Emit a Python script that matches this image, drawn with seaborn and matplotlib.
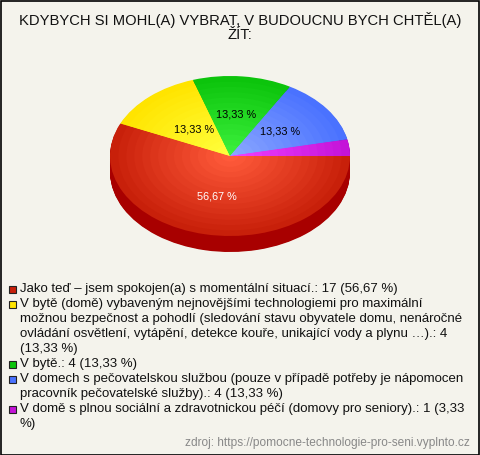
import numpy as np
import seaborn as sns
import matplotlib
matplotlib.use("Agg")
import matplotlib.pyplot as plt
from matplotlib.colors import to_rgb

# data
title = "KDYBYCH SI MOHL(A) VYBRAT, V BUDOUCNU BYCH CHTĚL(A)\nŽÍT:"
categories = [
    "Jako teď – jsem spokojen(a) s momentální situací.",
    "V bytě (domě) vybaveným nejnovějšími technologiemi pro maximální možnou "
    "bezpečnost a pohodlí (sledování stavu obyvatele domu, nenáročné ovládání "
    "osvětlení, vytápění, detekce kouře, unikající vody a plynu …).",
    "V bytě.",
    "V domech s pečovatelskou službou (pouze v případě potřeby je nápomocen "
    "pracovník pečovatelské služby).",
    "V domě s plnou sociální a zdravotnickou péčí (domovy pro seniory).",
]
counts = [17, 4, 4, 4, 1]
source = "zdroj: https://pomocne-technologie-pro-seni.vyplnto.cz"

edge_colors = ["#c8200a", "#ffe400", "#0cc40c", "#4a72ff", "#c414d8"]
center_colors = ["#ff5a3a", "#ffff3c", "#3cf03c", "#8aa6ff", "#f040ff"]
side_colors = ["#a80000", "#c8b400", "#089008", "#2848c0", "#9000a0"]
legend_colors = ["#c8200a", "#ffe400", "#0cc40c", "#4a72ff", "#c414d8"]

sns.set_theme(style="white")
plt.rcParams["font.family"] = ["Liberation Sans", "DejaVu Sans"]

W, H = 480, 455
bg = "#f4f3ec"
fig = plt.figure(figsize=(W / 100, H / 100), dpi=100, facecolor=bg)

total = sum(counts)


def fmt_pct(v):
    return f"{v:.2f}".replace(".", ",") + " %"


# pie axes: centre (230,156) px, rx=120, ry=80, depth 16 px
cx, cy, rx, ry = 230, 156, 120, 80
ylo, yhi = -1.35, 1.05
ax = fig.add_axes([(cx - rx) / W, (H - (cy - ylo * ry)) / H,
                   2 * rx / W, (yhi - ylo) * ry / H])
ax.set_facecolor("none")

# side (depth)
depth = 0.2
for off in np.linspace(depth, 0.01, 24):
    ax.pie(counts, colors=side_colors, startangle=0, counterclock=False,
           center=(0, -off), radius=1,
           wedgeprops=dict(linewidth=0, antialiased=True))

# top face with radial gradient
ax.pie(counts, colors=edge_colors, startangle=0, counterclock=False,
       radius=1, wedgeprops=dict(linewidth=0))
steps = 14
for i, r in enumerate(np.linspace(0.93, 0.07, steps)):
    t = (i + 1) / steps
    cols = [tuple((1 - t) * np.array(to_rgb(e)) + t * np.array(to_rgb(c)))
            for e, c in zip(edge_colors, center_colors)]
    ax.pie(counts, colors=cols, startangle=0, counterclock=False,
           radius=r, wedgeprops=dict(linewidth=0))

# percentage labels
acc = 0.0
for i, n in enumerate(counts):
    frac = n / total
    mid = -(acc + frac / 2) * 360
    acc += frac
    if frac < 0.05:
        continue
    d = 0.52 if i != 1 else 0.45
    x, y = d * np.cos(np.radians(mid)), d * np.sin(np.radians(mid))
    ax.text(x, y, fmt_pct(100 * frac), ha="center", va="center",
            fontsize=7.8, color="white" if i == 0 else "black", zorder=10)

ax.set_aspect("auto")
ax.set_xlim(-1, 1)
ax.set_ylim(ylo, yhi)
ax.axis("off")

# title
fig.text(W / 2 / W, 1 - 27 / H, title, ha="center", va="center",
         fontsize=10.6, color="#111111", linespacing=0.92)

# legend with pixel-based wrapping
renderer = fig.canvas.get_renderer()
leg_fs = 9.55
max_w = 450


def text_width(s):
    t = fig.text(0, 0, s, fontsize=leg_fs)
    w = t.get_window_extent(renderer).width
    t.remove()
    return w


def wrap(s):
    lines, cur = [], ""
    for word in s.split(" "):
        trial = word if not cur else cur + " " + word
        if text_width(trial) <= max_w or not cur:
            cur = trial
        else:
            lines.append(cur)
            cur = word
    lines.append(cur)
    return lines


line_y = 289
step = 15
for cat, n, col in zip(categories, counts, legend_colors):
    label = f"{cat}: {n} ({fmt_pct(100 * n / total)})"
    lines = wrap(label)
    sq = plt.Rectangle((9 / W, 1 - (line_y + 3.5) / H), 7 / W, 7 / H,
                       transform=fig.transFigure, facecolor=col,
                       edgecolor="#222222", linewidth=0.8)
    fig.add_artist(sq)
    for ln in lines:
        fig.text(20 / W, 1 - line_y / H, ln, ha="left", va="center",
                 fontsize=leg_fs, color="#111111")
        line_y += step

fig.text(470 / W, 1 - 443 / H, source, ha="right", va="center",
         fontsize=8.6, color="#888888")

# border
fig.add_artist(plt.Rectangle((0.5 / W, 0.5 / H), 1 - 1.5 / W, 1 - 1.5 / H,
                             transform=fig.transFigure, fill=False,
                             edgecolor="black", linewidth=1.2))

fig.savefig("out.png", dpi=100, facecolor=bg)
